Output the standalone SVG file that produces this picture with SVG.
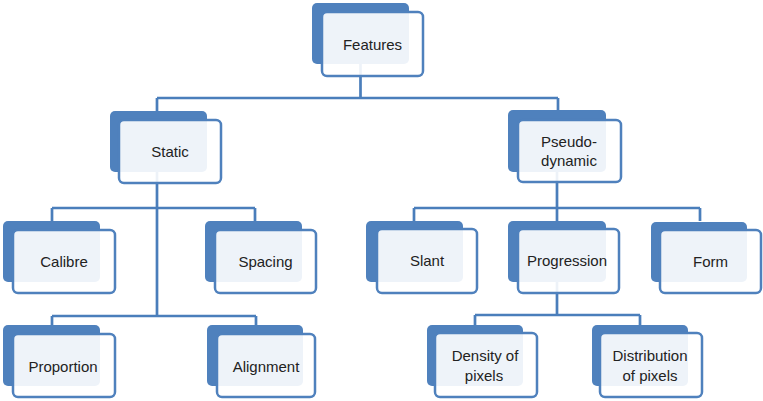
<svg xmlns="http://www.w3.org/2000/svg" width="763" height="401" viewBox="0 0 763 401">
<style>
.bk{fill:#4F81BD}
.fr{fill:#FFFFFF;fill-opacity:0.9;stroke:#4F81BD;stroke-width:2.5}
.cn{fill:none;stroke:#4A7EBB;stroke-width:2.7}
text{font-family:"Liberation Sans",Arial,sans-serif;font-size:15px;fill:#222;text-anchor:middle;dominant-baseline:central}
</style>
<rect width="763" height="401" fill="#fff"/>
<g id="connectors">
<path class="cn" d="M360.5 63V98M157 98H558M157 98V111M558 98V111"/>
<path class="cn" d="M157 171V316M52 208H255M52 208V221M255 208V221M52 316H256M52 316V325M256 316V325"/>
<path class="cn" d="M557 171V208M414 208H700M414 208V221M557 208V221M700 208V221"/>
<path class="cn" d="M557 282V315M475 315H640M475 315V325M640 315V325"/>
</g>
<g id="n-features"><rect class="bk" x="312" y="3" width="97" height="61" rx="5"/><rect class="fr" x="322" y="12" width="101" height="64" rx="5"/><text x="372.5" y="44">Features</text></g>
<g id="n-static"><rect class="bk" x="110" y="111" width="97" height="61" rx="5"/><rect class="fr" x="119" y="120" width="102" height="63" rx="5"/><text x="170" y="151">Static</text></g>
<g id="n-pseudo"><rect class="bk" x="508" y="110" width="98" height="62" rx="5"/><rect class="fr" x="518" y="120" width="103" height="62" rx="5"/><text x="569" y="141">Pseudo-</text><text x="569" y="160">dynamic</text></g>
<g id="n-calibre"><rect class="bk" x="3" y="221" width="97" height="61" rx="5"/><rect class="fr" x="13" y="230" width="102" height="63" rx="5"/><text x="64" y="261">Calibre</text></g>
<g id="n-spacing"><rect class="bk" x="205" y="221" width="97" height="61" rx="5"/><rect class="fr" x="215" y="230" width="101" height="63" rx="5"/><text x="265.5" y="261">Spacing</text></g>
<g id="n-slant"><rect class="bk" x="366" y="221" width="97" height="61" rx="5"/><rect class="fr" x="377" y="229" width="100" height="64" rx="5"/><text x="427" y="260">Slant</text></g>
<g id="n-progression"><rect class="bk" x="508" y="221" width="98" height="61" rx="5"/><rect class="fr" x="518" y="229" width="101" height="64" rx="5"/><text x="567" y="260">Progression</text></g>
<g id="n-form"><rect class="bk" x="651" y="222" width="96" height="60" rx="5"/><rect class="fr" x="660" y="230" width="101" height="63" rx="5"/><text x="710.5" y="261">Form</text></g>
<g id="n-proportion"><rect class="bk" x="3" y="325" width="97" height="61" rx="5"/><rect class="fr" x="13" y="334" width="102" height="63" rx="5"/><text x="63" y="366">Proportion</text></g>
<g id="n-alignment"><rect class="bk" x="207" y="325" width="96" height="61" rx="5"/><rect class="fr" x="217" y="334" width="98" height="63" rx="5"/><text x="266" y="366">Alignment</text></g>
<g id="n-density"><rect class="bk" x="427" y="325" width="96" height="61" rx="5"/><rect class="fr" x="435" y="333" width="102" height="64" rx="5"/><text x="485" y="355">Density of</text><text x="484" y="375">pixels</text></g>
<g id="n-distribution"><rect class="bk" x="592" y="325" width="96" height="61" rx="5"/><rect class="fr" x="600" y="333" width="102" height="64" rx="5"/><text x="650" y="355">Distribution</text><text x="650" y="375">of pixels</text></g>
</svg>
